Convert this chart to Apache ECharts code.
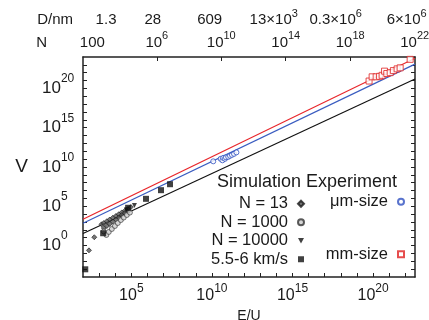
<!DOCTYPE html>
<html><head><meta charset="utf-8">
<script src="https://cdn.jsdelivr.net/npm/echarts@6/dist/echarts.min.js"></script>
<style>html,body{margin:0;padding:0;background:#fff}#c{width:429px;height:320px}</style>
</head><body><div id="c"></div>
<script>
// All values are log10 exponents: x = log10(E/U), y = log10(V)
const xRange = [2, 22.6];
const yRange = [-4, 24];
const nShift = 0.58;              // log10(E/U) - log10(N)
const xTickLabels = [5, 10, 15, 20];
const yTickLabels = [0, 5, 10, 15, 20];
const nTickExp = [2, 6, 10, 14, 18, 22];
const nTickText = ['100', '10^6', '10^10', '10^14', '10^18', '10^22'];
const dTickText = ['1.3', '28', '609', '13×10^3', '0.3×10^6', '6×10^6'];

const n13LogE = [2.37, 2.70, 3.15, 3.29, 3.48, 3.66, 3.85, 4.04, 4.22, 4.41, 4.60, 4.78, 4.97, 3.29, 3.48, 3.66, 3.85, 4.04, 4.22, 4.41, 4.60, 4.78];
const n13LogV = [-0.61, 1.06, 2.71, 2.87, 3.10, 3.32, 3.54, 3.76, 3.99, 4.22, 4.43, 4.65, 4.90, 2.24, 2.49, 2.75, 3.06, 3.32, 3.57, 3.89, 4.14, 4.33];
const n1000LogE = [3.29, 3.45, 3.60, 3.79, 3.98, 4.16, 4.35, 4.53, 4.72, 4.91];
const n1000LogV = [1.80, 1.35, 1.73, 2.11, 2.49, 2.87, 3.25, 3.57, 3.89, 4.20];
const n10000LogE = [5.19, 4.70];
const n10000LogV = [5.09, 4.55];
const kmsLogE = [2.14, 3.25, 4.80, 5.91, 6.84, 7.40];
const kmsLogV = [-3.02, 1.57, 4.81, 5.95, 7.05, 7.81];
const umLogE = [10.08, 10.54, 10.65, 10.70, 10.81, 10.87, 11.01, 11.12, 11.24, 11.37, 11.52];
const umLogV = [10.72, 11.04, 10.85, 11.16, 11.04, 11.23, 11.29, 11.42, 11.54, 11.67, 11.86];
const mmLogE = [19.75, 19.94, 20.19, 20.40, 20.56, 20.71, 20.85, 21.06, 21.26, 21.49, 21.68, 22.30];
const mmLogV = [20.94, 21.48, 21.48, 21.54, 21.67, 22.20, 21.90, 22.01, 22.27, 22.49, 22.62, 23.70];
const lineLogE = [2, 22.6];
const redLineLogV = [3.34, 23.85];
const blueLineLogV = [2.84, 23.09];
const blackLineLogV = [1.53, 21.19];

const FF = "'Liberation Sans', Arial, sans-serif";
const TXT = '#1a1a1a';
const pairs = (xs, ys) => xs.map((x, i) => [x, ys[i]]);
const ints = (a, b) => { const r = []; for (let i = a; i <= b; i++) r.push(i); return r; };
const findIdx = (arr, v) => { let k = 0; arr.forEach((a, i) => { if (Math.abs(a - v) < Math.abs(arr[k] - v)) k = i; }); return k; };

function rt(t, b, s) {
  const i = t.indexOf('^');
  if (i < 0) return '{' + b + '|' + t + '}';
  return '{' + b + '|' + t.slice(0, i) + '}{' + s + '|' + t.slice(i + 1) + '}';
}

// pixel nudges of the D labels relative to their N ticks, as in the original
const pxPerDecade = 332 / (xRange[1] - xRange[0]);
const dShiftPx = [13.7, -4, -11.6, -12, -14.5, -8];
const dLabelPos = nTickExp.map((v, i) => v + dShiftPx[i] / pxPerDecade);

const topRich = {
  b: {fontSize: 15, lineHeight: 24, color: TXT, fontFamily: FF},
  s: {fontSize: 11, lineHeight: 11, verticalAlign: 'top', color: TXT, fontFamily: FF}
};
const downTri = 'path://M0,0L10,0L5,9Z';

const frame = {show: true, onZero: false, lineStyle: {color: '#222', width: 1.5}};
const chart = echarts.init(document.getElementById('c'), null, {renderer: 'canvas'});
chart.setOption({
  animation: false,
  backgroundColor: '#fff',
  grid: {left: 83, right: 14, top: 57, bottom: 43, containLabel: false, outerBoundsMode: 'none'},
  title: {text: 'Simulation Experiment', left: 217, top: 172, padding: 0,
    textStyle: {fontSize: 18, lineHeight: 20, fontWeight: 'normal', color: TXT, fontFamily: FF}},
  legend: [
    {data: ['N = 13', 'N = 1000', {name: 'N = 10000', icon: downTri}, '5.5-6 km/s'], orient: 'vertical', align: 'right',
      right: 124, top: 194.5, padding: 0, itemGap: 0, itemWidth: 6, itemHeight: 6, selectedMode: false,
      textStyle: {fontSize: 16.5, lineHeight: 18.5, color: TXT, fontFamily: FF, padding: [0, 5, 0, 0]}},
    {data: ['μm-size', 'mm-size'], orient: 'vertical', align: 'right',
      right: 24, top: 192.5, padding: 0, itemGap: 34, itemWidth: 6, itemHeight: 6, selectedMode: false,
      textStyle: {fontSize: 16.5, lineHeight: 18.5, color: TXT, fontFamily: FF, padding: [0, 5, 0, 0]}}
  ],
  xAxis: [
    {type: 'value', position: 'bottom', min: xRange[0], max: xRange[1],
      axisLine: frame, splitLine: {show: false},
      axisTick: {inside: true, length: 4, customValues: ints(3, 22), lineStyle: {color: '#222'}},
      axisLabel: {customValues: xTickLabels, margin: 5.5, hideOverlap: false, formatter: v => rt('10^' + v, 'b', 's'),
        rich: {b: {fontSize: 16, lineHeight: 27, color: TXT, fontFamily: FF},
               s: {fontSize: 12, lineHeight: 11, verticalAlign: 'top', color: TXT, fontFamily: FF}}},
      name: 'E/U', nameLocation: 'middle', nameGap: 30,
      nameTextStyle: {fontSize: 14, color: TXT, fontFamily: FF}},
    {type: 'value', position: 'top', min: xRange[0] - nShift, max: xRange[1] - nShift,
      axisLine: frame, splitLine: {show: false},
      axisTick: {inside: true, length: 4, customValues: [6, 10, 14, 18], lineStyle: {color: '#222'}},
      axisLabel: {customValues: nTickExp, margin: 2.5, hideOverlap: false,
        formatter: v => rt(nTickText[findIdx(nTickExp, v)], 'b', 's'), rich: topRich},
      name: 'N', nameLocation: 'start', nameGap: 36,
      nameTextStyle: {fontSize: 15, color: TXT, fontFamily: FF, verticalAlign: 'bottom', lineHeight: 29}},
    {type: 'value', position: 'top', offset: 22.5, min: xRange[0] - nShift, max: xRange[1] - nShift,
      axisLine: {show: false, onZero: false}, axisTick: {show: false}, splitLine: {show: false},
      axisLabel: {customValues: dLabelPos, margin: 2.5, hideOverlap: false,
        formatter: v => rt(dTickText[findIdx(dLabelPos, v)], 'b', 's'), rich: topRich},
      name: 'D/nm', nameLocation: 'start', nameGap: 10,
      nameTextStyle: {fontSize: 15, color: TXT, fontFamily: FF, verticalAlign: 'bottom', lineHeight: 29}}
  ],
  yAxis: [
    {type: 'value', position: 'left', min: yRange[0], max: yRange[1],
      axisLine: frame, splitLine: {show: false},
      axisTick: {inside: true, length: 4, customValues: ints(-3, 23), lineStyle: {color: '#222'}},
      axisLabel: {customValues: yTickLabels, align: 'left', margin: 41, formatter: v => rt('10^' + v, 'b', 's'),
        rich: {b: {fontSize: 17, lineHeight: 31, color: TXT, fontFamily: FF},
               s: {fontSize: 12, lineHeight: 11, verticalAlign: 'top', color: TXT, fontFamily: FF}}},
      name: 'V', nameLocation: 'middle', nameRotate: 0, nameGap: 55,
      nameTextStyle: {fontSize: 19, color: TXT, fontFamily: FF}},
    {type: 'value', position: 'right', min: yRange[0], max: yRange[1],
      axisLine: frame, splitLine: {show: false},
      axisTick: {inside: true, length: 4, customValues: ints(-3, 23), lineStyle: {color: '#222'}},
      axisLabel: {show: false}}
  ],
  series: [
    {type: 'line', data: pairs(lineLogE, redLineLogV), showSymbol: false, silent: true, z: 1,
      lineStyle: {color: '#e8262b', width: 1.2}, itemStyle: {color: '#e8262b'}},
    {type: 'line', data: pairs(lineLogE, blueLineLogV), showSymbol: false, silent: true, z: 1,
      lineStyle: {color: '#3a5cc0', width: 1.2}, itemStyle: {color: '#3a5cc0'}},
    {type: 'line', data: pairs(lineLogE, blackLineLogV), showSymbol: false, silent: true, z: 1,
      lineStyle: {color: '#111', width: 1.2}, itemStyle: {color: '#111'}},
    {name: 'N = 13', type: 'scatter', data: pairs(n13LogE, n13LogV), symbol: 'diamond', symbolSize: 5, z: 3,
      itemStyle: {color: '#555', borderColor: '#1a1a1a', borderWidth: 0.8}},
    {name: 'N = 1000', type: 'scatter', data: pairs(n1000LogE, n1000LogV), symbol: 'circle', symbolSize: 5, z: 3,
      itemStyle: {color: '#ccc', borderColor: '#333', borderWidth: 0.8}},
    {name: 'N = 10000', type: 'scatter', data: pairs(n10000LogE, n10000LogV), symbol: 'triangle', symbolRotate: 180, symbolSize: 5, z: 3,
      itemStyle: {color: '#111'}},
    {name: '5.5-6 km/s', type: 'scatter', data: pairs(kmsLogE, kmsLogV), symbol: 'rect', symbolSize: 6, z: 3,
      itemStyle: {color: '#111'}},
    {name: 'μm-size', type: 'scatter', data: pairs(umLogE, umLogV), symbol: 'circle', symbolSize: 5, z: 3,
      itemStyle: {color: '#fff', borderColor: '#3050c0', borderWidth: 1}},
    {name: 'mm-size', type: 'scatter', data: pairs(mmLogE, mmLogV), symbol: 'rect', symbolSize: 6, z: 3,
      itemStyle: {color: '#fff', borderColor: '#e02020', borderWidth: 1}}
  ]
});
</script></body></html>
